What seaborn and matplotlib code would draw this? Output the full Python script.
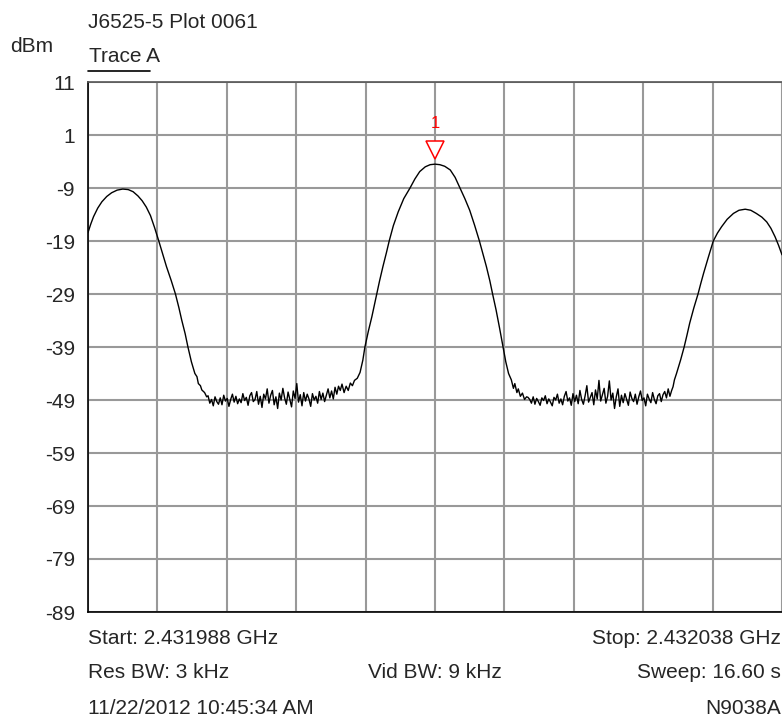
import numpy as np
import pandas as pd
import matplotlib
matplotlib.use("Agg")
import matplotlib.pyplot as plt
import matplotlib.transforms as mtransforms
import seaborn as sns

# ---------------- data ----------------
title = "J6525-5 Plot 0061"
trace_name = "Trace A"
y_unit = "dBm"
y_ticks = [11, 1, -9, -19, -29, -39, -49, -59, -69, -79, -89]
khz_per_div = 5.0          # span 50 kHz over 10 divisions
n_div = 10

# smooth parts of trace: (position in divisions, level dBm)
left_lobe_div = [0.0, 0.04, 0.08, 0.14, 0.20, 0.27, 0.34, 0.42, 0.50, 0.58, 0.65, 0.72, 0.78,
                 0.84, 0.90, 0.96, 1.02, 1.08, 1.13, 1.20, 1.26, 1.31, 1.35, 1.40, 1.44, 1.49,
                 1.54, 1.57, 1.59, 1.62, 1.64, 1.68, 1.71]
left_lobe_dbm = [-17.4, -15.8, -14.4, -12.8, -11.6, -10.6, -9.9, -9.4, -9.2, -9.3, -9.7, -10.5, -11.4,
                 -12.6, -14.2, -16.5, -19.0, -21.6, -23.8, -26.5, -29.0, -31.6, -33.9, -36.5, -39.0, -41.8,
                 -44.0, -44.6, -45.9, -46.3, -47.1, -47.6, -48.4]

floor1_start, floor1_stop = 1.73, 3.66
floor1_dbm = [-48.2, -49.6, -48.9, -50.1, -48.4, -49.3, -49.8, -48.6, -49.9, -48.1,
              -49.2, -48.7, -50.2, -48.9, -47.9, -49.4, -48.3, -49.7, -48.8, -49.5,
              -47.8, -49.1, -48.5, -50.0, -48.2, -47.6, -49.3, -48.9, -47.4, -49.8,
              -48.3, -50.4, -47.9, -48.8, -46.9, -49.6, -48.1, -47.2, -49.9, -48.4,
              -50.6, -47.7, -49.0, -46.8, -48.6, -49.8, -47.5, -48.9, -50.3, -47.3,
              -48.7, -45.9, -49.4, -48.0, -50.1, -47.6, -49.2, -47.9, -48.8, -50.2,
              -47.8, -49.0, -48.3, -49.6, -47.4, -48.9, -47.7, -49.3, -48.1, -46.9,
              -48.6, -47.3, -48.8, -46.6, -47.9, -46.4, -47.2, -46.0]

mid_lobe_div = [3.69, 3.72, 3.75, 3.78, 3.81, 3.84, 3.88, 3.92, 3.96, 3.99, 4.04, 4.09, 4.16, 4.20,
                4.25, 4.30, 4.34, 4.40, 4.47, 4.55, 4.64, 4.71, 4.78, 4.86, 4.93, 5.00, 5.07,
                5.14, 5.22, 5.29, 5.36, 5.43, 5.50, 5.57, 5.64, 5.69, 5.74, 5.79, 5.83, 5.88,
                5.93, 5.98, 6.02, 6.06, 6.10, 6.13, 6.15, 6.18, 6.20, 6.23, 6.26, 6.29, 6.32]
mid_lobe_dbm = [-47.6, -46.4, -47.2, -45.8, -46.3, -45.3, -44.9, -43.8, -41.5, -39.0, -36.0, -33.3, -29.0, -26.6,
                -23.8, -21.2, -19.0, -16.1, -13.5, -11.0, -9.0, -7.3, -5.9, -5.0, -4.6, -4.5, -4.6,
                -4.9, -5.6, -7.0, -9.0, -11.0, -13.2, -16.0, -19.0, -21.4, -23.8, -26.5, -29.0, -32.0,
                -35.4, -39.0, -41.8, -44.0, -45.2, -46.8, -45.9, -47.6, -46.9, -48.3, -47.7, -48.9, -48.4]

floor2_start, floor2_stop = 6.34, 8.41
floor2_dbm = [-48.5, -48.9, -49.6, -48.4, -49.8, -48.7, -49.3, -50.0, -48.6, -49.1,
              -48.2, -49.7, -48.8, -49.4, -50.1, -48.5, -49.0, -47.9, -49.6, -48.8,
              -49.9, -48.3, -47.4, -49.2, -48.6, -50.0, -47.8, -49.3, -48.1, -49.7,
              -47.2, -48.9, -49.8, -48.2, -46.3, -49.4, -48.5, -47.6, -49.9, -47.1,
              -48.8, -45.3, -49.2, -48.0, -46.8, -49.6, -48.3, -45.4, -49.0, -47.7,
              -50.6, -48.4, -46.9, -50.2, -48.1, -49.5, -47.8, -48.9, -50.0, -47.5,
              -48.7, -49.3, -47.9, -49.8, -48.4, -47.3, -49.1, -48.6, -50.1, -47.9,
              -48.8, -49.5, -47.6, -48.9, -49.7, -48.2, -47.8, -49.3, -48.0, -47.4,
              -48.6, -46.9, -48.3, -47.2]

right_lobe_div = [8.43, 8.45, 8.48, 8.54, 8.59, 8.63, 8.67, 8.73, 8.79, 8.83, 8.87, 8.94, 9.01, 9.07,
                  9.13, 9.21, 9.30, 9.38, 9.47, 9.55, 9.63, 9.71, 9.78, 9.84, 9.90, 9.95, 10.0]
right_lobe_dbm = [-46.5, -45.2, -44.0, -41.4, -39.0, -36.8, -34.5, -31.6, -29.0, -27.0, -25.1, -22.0, -19.0, -17.5,
                  -16.3, -14.9, -13.8, -13.2, -13.0, -13.2, -13.8, -14.5, -15.4, -16.6, -18.2, -19.8, -21.6]

marker_label = "1"
marker_div = 5.0
marker_dbm = -4.5

footer_left = ["Start: 2.431988 GHz", "Res BW: 3 kHz", "11/22/2012 10:45:34 AM"]
footer_mid = ["", "Vid BW: 9 kHz", ""]
footer_right = ["Stop: 2.432038 GHz", "Sweep: 16.60 s", "N9038A"]

# ---------------- build trace ----------------
pos = np.concatenate([
    np.array(left_lobe_div),
    np.linspace(floor1_start, floor1_stop, len(floor1_dbm)),
    np.array(mid_lobe_div),
    np.linspace(floor2_start, floor2_stop, len(floor2_dbm)),
    np.array(right_lobe_div),
])
lvl = np.concatenate([left_lobe_dbm, floor1_dbm, mid_lobe_dbm, floor2_dbm, right_lobe_dbm])
df = pd.DataFrame({"freq_khz": pos * khz_per_div, "level": lvl})

# ---------------- figure ----------------
sns.set_style("white")
plt.rcParams["font.family"] = ["Liberation Sans", "DejaVu Sans"]
FS = 15

fig = plt.figure(figsize=(7.82, 7.16), dpi=100)
ax = fig.add_axes([88 / 782, 1 - 612 / 716, 1 - 88 / 782, (612 - 82) / 716])

sns.lineplot(data=df, x="freq_khz", y="level", ax=ax, color="black", linewidth=1.0,
             sort=False, estimator=None, zorder=3)

ax.set_xlim(0, n_div * khz_per_div)
ax.set_ylim(y_ticks[-1], y_ticks[0])
ax.set_xticks(np.arange(0, n_div + 1) * khz_per_div)
ax.set_yticks(y_ticks)
ax.set_xticklabels([])
ax.set_yticklabels([str(t) for t in y_ticks], fontsize=FS)
ax.tick_params(axis="y", length=0, pad=9.5)
ax.tick_params(axis="x", length=0, pad=0)
ax.grid(True, color="#999999", linewidth=1.5, zorder=0)
ax.set_xlabel("")
ax.set_ylabel("")
for s in ["left", "bottom", "top"]:
    ax.spines[s].set_color("black")
    ax.spines[s].set_linewidth(1.2)
ax.spines["top"].set_color("#555555")
ax.spines["right"].set_visible(False)

# marker
mx = marker_div * khz_per_div
off = mtransforms.ScaledTranslation(0, 10 / 72, fig.dpi_scale_trans)
ax.plot([mx], [marker_dbm], marker="v", markersize=13, markerfacecolor="white",
        markeredgecolor="red", markeredgewidth=1.1, linestyle="none",
        transform=ax.transData + off, zorder=5, clip_on=False)
off2 = mtransforms.ScaledTranslation(0, 24 / 72, fig.dpi_scale_trans)
ax.text(mx, marker_dbm, marker_label, color="red", fontsize=12, ha="center", va="bottom",
        transform=ax.transData + off2)

# header texts
fig.text(88 / 782, 1 - 22 / 716, title, fontsize=FS, ha="left", va="center")
fig.text(10 / 782, 1 - 47 / 716, y_unit, fontsize=FS, ha="left", va="center")
fig.text(89 / 782, 1 - 57 / 716, trace_name, fontsize=FS, ha="left", va="center")
fig.add_artist(plt.Line2D([88 / 782, 150 / 782], [1 - 71 / 716, 1 - 71 / 716],
                          color="black", linewidth=1.2, transform=fig.transFigure))

# footer texts
rows_y = [638, 673, 708]
for i, yy in enumerate(rows_y):
    fig.text(88 / 782, 1 - yy / 716, footer_left[i], fontsize=FS, ha="left", va="center")
    if footer_mid[i]:
        fig.text(435 / 782, 1 - yy / 716, footer_mid[i], fontsize=FS, ha="center", va="center")
    fig.text(781 / 782, 1 - yy / 716, footer_right[i], fontsize=FS, ha="right", va="center")

fig.savefig("out.png", dpi=100)
